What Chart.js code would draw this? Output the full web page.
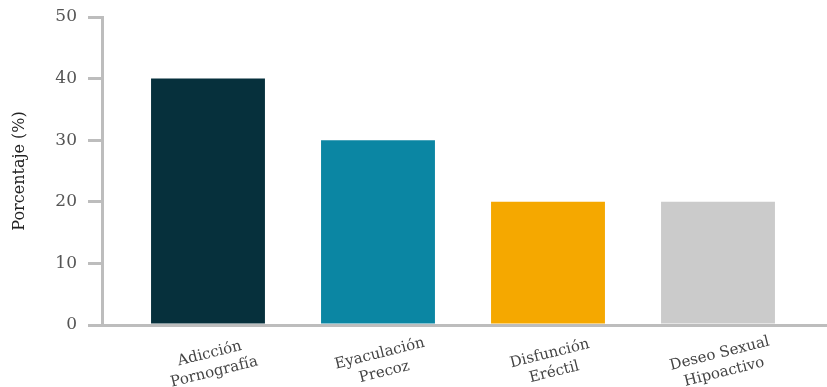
<!DOCTYPE html>
<html lang="es">
<head>
<meta charset="UTF-8">
<title>Porcentaje</title>
<script src="https://cdn.jsdelivr.net/npm/chart.js@4/dist/chart.umd.min.js"></script>
<style>
  html, body { margin: 0; padding: 0; background: #fff; }
  #wrap { width: 827px; height: 387px; }
</style>
</head>
<body>
<div id="wrap"><canvas id="canvas"></canvas></div>
<script>
  const categories = [["Adicción", "Pornografía"], ["Eyaculación", "Precoz"], ["Disfunción", "Eréctil"], ["Deseo Sexual", "Hipoactivo"]];
  const values = [40, 30, 20, 20];
  const barColors = ["#06303c", "#0b86a3", "#f5a800", "#cbcbcb"];
  const yTicks = [0, 10, 20, 30, 40, 50];

  const axisColor = "#bdbdbd";
  const serif = "'DejaVu Serif', serif";

  // rotated, centred two-line category labels
  const xLabels = {
    id: "xLabels",
    afterDraw(chart) {
      const ctx = chart.ctx;
      const xs = chart.scales.x;
      const base = chart.chartArea.bottom + 38;
      ctx.save();
      ctx.fillStyle = "#444";
      ctx.font = "15px " + serif;
      ctx.textAlign = "center";
      ctx.textBaseline = "middle";
      categories.forEach((lines, i) => {
        ctx.save();
        ctx.translate(xs.getPixelForValue(i) + 4, base);
        ctx.rotate(-14 * Math.PI / 180);
        lines.forEach((t, j) => {
          ctx.fillText(t, 0, (j - (lines.length - 1) / 2) * 19);
        });
        ctx.restore();
      });
      ctx.restore();
    }
  };

  new Chart(document.getElementById("canvas"), {
    type: "bar",
    data: {
      datasets: [{
        data: values.map((v, i) => ({ x: i, y: v })),
        backgroundColor: barColors,
        categoryPercentage: 1,
        barPercentage: 0.67
      }]
    },
    options: {
      responsive: true,
      maintainAspectRatio: false,
      animation: false,
      layout: { padding: { top: 17, right: 0, bottom: 0, left: 0 } },
      plugins: { legend: { display: false }, tooltip: { enabled: false } },
      scales: {
        x: {
          type: "linear",
          offset: false,
          min: -0.6235,
          max: 3.6412,
          afterBuildTicks(scale) { scale.ticks = values.map((v, i) => ({ value: i })); },
          grid: { display: false },
          border: { color: axisColor, width: 3 },
          ticks: { display: false },
          afterFit(scale) { scale.height = 62; }
        },
        y: {
          min: 0,
          max: 50,
          afterBuildTicks(scale) { scale.ticks = yTicks.map(v => ({ value: v })); },
          grid: { drawOnChartArea: false, color: axisColor, lineWidth: 3, tickLength: 14 },
          border: { color: axisColor, width: 3 },
          ticks: { color: "#555", font: { family: serif, size: 17 }, padding: 11 },
          title: {
            display: true,
            text: "Porcentaje (%)",
            color: "#222",
            font: { family: serif, size: 16 },
            padding: { top: 10, bottom: 0 }
          },
          afterFit(scale) {
            scale.width = 102;
            scale.paddingTop = 0;
          }
        }
      }
    },
    plugins: [xLabels]
  });
</script>
</body>
</html>
